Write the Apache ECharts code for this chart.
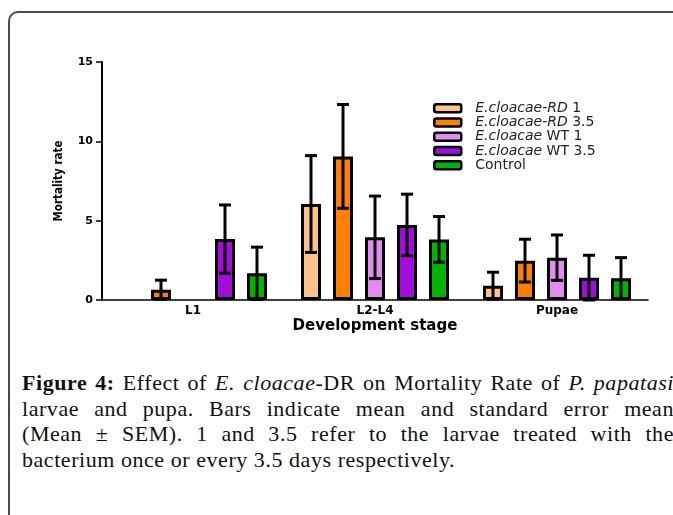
<!DOCTYPE html>
<html>
<head>
<meta charset="utf-8">
<script src="https://cdn.jsdelivr.net/npm/echarts@6/dist/echarts.min.js"></script>
<style>
  html, body { margin: 0; padding: 0; width: 673px; height: 515px; overflow: hidden; background: #fff; }
  #frame {
    position: absolute; left: 8px; top: 11px; width: 720px; height: 620px;
    border: 2px solid #4a4a4a; border-radius: 10px; box-sizing: border-box;
  }
  #chart { position: absolute; left: 0; top: 0; width: 673px; height: 515px; }
  #cap {
    position: absolute; left: 22px; top: 370px; width: 652px;
    font-family: 'Liberation Serif', serif; font-size: 22px; line-height: 25.5px;
    color: #111; letter-spacing: 0.55px;
  }
  #cap div { white-space: nowrap; text-align: justify; text-align-last: justify; }
  #cap div.last { text-align-last: left; }
</style>
</head>
<body>
<div id="frame"></div>
<div id="cap">
  <div><b>Figure 4:</b> Effect of <i>E. cloacae</i>-DR on Mortality Rate of <i>P. papatasi</i></div>
  <div>larvae and pupa. Bars indicate mean and standard error mean</div>
  <div>(Mean ± SEM). 1 and 3.5 refer to the larvae treated with the</div>
  <div class="last">bacterium once or every 3.5 days respectively.</div>
</div>
<div id="chart"></div>
<script>
// development stages
const stages = ['L1', 'L2-L4', 'Pupae'];

// mean mortality and SEM per group
const rd1Mean = [0, 6.05, 0.9];
const rd1Sem = [0, 3.05, 0.85];
const rd35Mean = [0.65, 9.05, 2.48];
const rd35Sem = [0.6, 3.27, 1.35];
const wt1Mean = [0, 3.95, 2.67];
const wt1Sem = [0, 2.6, 1.43];
const wt35Mean = [3.84, 4.73, 1.41];
const wt35Sem = [2.15, 1.94, 1.41];
const ctrlMean = [1.68, 3.82, 1.37];
const ctrlSem = [1.65, 1.44, 1.3];

const yTicks = [0, 5, 10, 15];

const groups = [
  { name: 'E.cloacae-RD 1', label: '{i|E.cloacae-RD} 1', color: '#ffc287', mean: rd1Mean, sem: rd1Sem },
  { name: 'E.cloacae-RD 3.5', label: '{i|E.cloacae-RD} 3.5', color: '#ff8000', mean: rd35Mean, sem: rd35Sem },
  { name: 'E.cloacae WT 1', label: '{i|E.cloacae} WT 1', color: '#e28cf0', mean: wt1Mean, sem: wt1Sem },
  { name: 'E.cloacae WT 3.5', label: '{i|E.cloacae} WT 3.5', color: '#a30ddc', mean: wt35Mean, sem: wt35Sem },
  { name: 'Control', label: 'Control', color: '#00b400', mean: ctrlMean, sem: ctrlSem }
];

const BAR_W = 20;
const BAR_GAP = 0.6;
const SANS = 'DejaVu Sans';

const chart = echarts.init(document.getElementById('chart'));

const barSeries = groups.map(g => ({
  name: g.name,
  type: 'bar',
  // a zero bar shows nothing but the axis line
  data: g.mean.map(v => v === 0 ? { value: v, itemStyle: { borderWidth: 0 } } : v),
  barWidth: BAR_W,
  barGap: (BAR_GAP * 100) + '%',
  itemStyle: { color: g.color, borderColor: '#000', borderWidth: 3 }
}));

const errSeries = groups.map((g, k) => ({
  type: 'custom',
  z: 5,
  data: g.mean.map((m, i) => [i, Math.max(0, m - g.sem[i]), m + g.sem[i], g.sem[i]]),
  renderItem(params, api) {
    if (api.value(3) === 0) return null;
    const shift = (k - (groups.length - 1) / 2) * BAR_W * (1 + BAR_GAP);
    const x = api.coord([api.value(0), 0])[0] + shift;
    const lo = api.coord([api.value(0), api.value(1)])[1];
    const hi = api.coord([api.value(0), api.value(2)])[1];
    const cap = 6;
    const st = { stroke: '#000', lineWidth: 3 };
    return {
      type: 'group',
      children: [
        { type: 'line', shape: { x1: x, y1: lo, x2: x, y2: hi }, style: st },
        { type: 'line', shape: { x1: x - cap, y1: hi, x2: x + cap, y2: hi }, style: st },
        { type: 'line', shape: { x1: x - cap, y1: lo, x2: x + cap, y2: lo }, style: st }
      ]
    };
  }
}));

const labelMap = {};
groups.forEach(g => { labelMap[g.name] = g.label; });

chart.setOption({
  animation: false,
  grid: { left: 102, right: 25, top: 62, bottom: 215, containLabel: false },
  legend: {
    orient: 'vertical',
    left: 433,
    top: 101,
    padding: 0,
    itemWidth: 27,
    itemHeight: 8,
    itemGap: 0,
    icon: 'roundRect',
    data: groups.map(g => g.name),
    itemStyle: { borderColor: '#000', borderWidth: 2.5 },
    formatter: name => labelMap[name],
    textStyle: {
      fontFamily: SANS, fontSize: 14, lineHeight: 14.3, color: '#222', padding: [0, 0, 0, 9],
      rich: { i: { fontFamily: SANS, fontSize: 14, lineHeight: 14.3, fontStyle: 'italic', color: '#222' } }
    }
  },
  xAxis: {
    type: 'category',
    data: stages,
    name: 'Development stage',
    nameLocation: 'middle',
    nameGap: 19,
    nameTextStyle: { fontFamily: SANS, fontSize: 15, fontWeight: 'bold', color: '#000' },
    axisLine: { lineStyle: { color: '#000', width: 1.5 } },
    axisTick: { alignWithLabel: true, length: 3, lineStyle: { color: '#000', width: 1.5 } },
    axisLabel: { fontFamily: SANS, fontSize: 12, fontWeight: 'bold', color: '#000', margin: 5 },
    splitLine: { show: false }
  },
  yAxis: {
    type: 'value',
    min: yTicks[0],
    max: yTicks[yTicks.length - 1],
    interval: yTicks[1] - yTicks[0],
    name: 'Mortality rate',
    nameLocation: 'middle',
    nameRotate: 90,
    nameGap: 37,
    nameTextStyle: { fontFamily: "'Liberation Sans Narrow', 'DejaVu Sans Condensed', sans-serif", fontSize: 11.5, fontWeight: 'bold', color: '#000' },
    axisLine: { show: true, lineStyle: { color: '#000', width: 2 } },
    axisTick: { show: true, length: 6, lineStyle: { color: '#000', width: 1.5 } },
    axisLabel: { fontFamily: SANS, fontSize: 11, fontWeight: 'bold', color: '#000', margin: 9 },
    splitLine: { show: false }
  },
  series: barSeries.concat(errSeries)
});
</script>
</body>
</html>
